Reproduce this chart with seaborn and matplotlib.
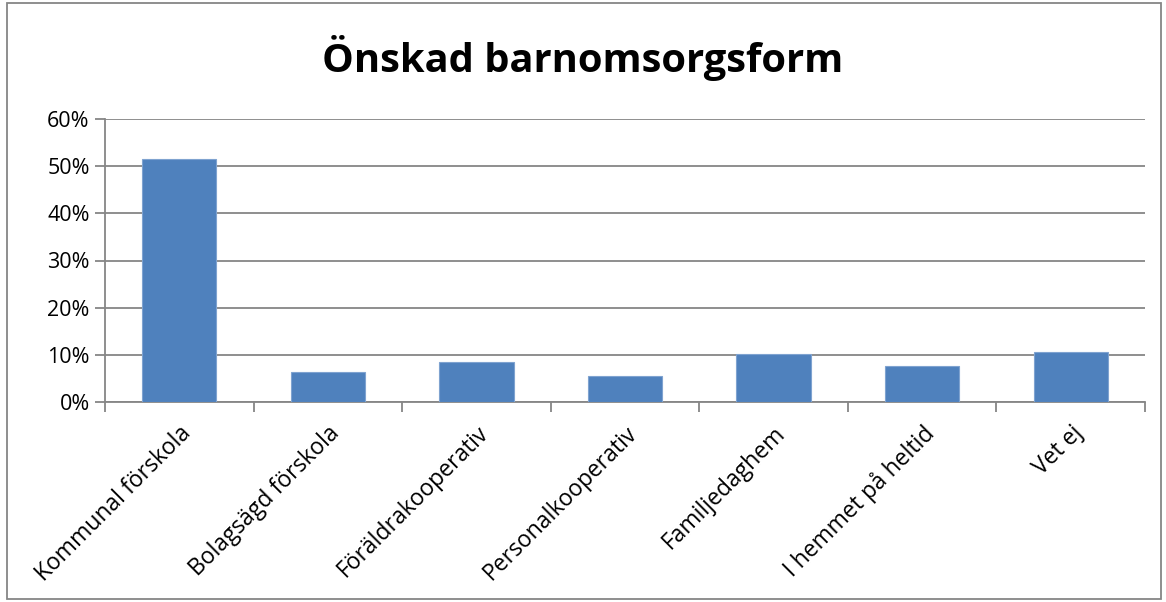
import matplotlib
matplotlib.use('Agg')
import matplotlib.pyplot as plt
import matplotlib.patches as mpatches
import numpy as np
import pandas as pd
import seaborn as sns

categories = ['Kommunal förskola', 'Bolagsägd förskola', 'Föräldrakooperativ',
              'Personalkooperativ', 'Familjedaghem', 'I hemmet på heltid', 'Vet ej']
values = [51.6, 6.3, 8.4, 5.5, 10.1, 7.6, 10.5]
yticks = [0, 10, 20, 30, 40, 50, 60]

df = pd.DataFrame({'form': categories, 'andel': values})

sns.set_style('white')
plt.rcParams['font.family'] = ['Open Sans', 'DejaVu Sans']
plt.rcParams['text.color'] = 'black'
plt.rcParams['xtick.labelcolor'] = 'black'
plt.rcParams['ytick.labelcolor'] = 'black'

fig = plt.figure(figsize=(11.66, 6.02), dpi=100)
ax = fig.add_axes([105 / 1166, 1 - 402 / 602, 1040 / 1166, 283 / 602])

sns.barplot(data=df, x='form', y='andel', color='#4F81BD', width=0.5,
            saturation=1, ax=ax, zorder=3, edgecolor='#7FA3D0', linewidth=0.8)

grid_c = '#868686'
ax.set_ylim(0, 60)
ax.set_xlim(-0.5, len(categories) - 0.5)
ax.set_yticks(yticks)
ax.set_yticklabels([f'{t}%' for t in yticks], fontsize=15.5)
ax.yaxis.grid(True, color=grid_c, linewidth=1.3, zorder=0)
ax.set_axisbelow(True)
ax.tick_params(axis='y', direction='out', length=7, width=1.3, color=grid_c, pad=4, left=True)

ax.set_xticks(range(len(categories)))
ax.set_xticklabels(categories, rotation=45, ha='right', rotation_mode='anchor', fontsize=16.5)
ax.tick_params(axis='x', which='major', length=0, pad=14)
ax.set_xticks(np.arange(-0.5, len(categories), 1.0), minor=True)
ax.tick_params(axis='x', which='minor', direction='out', length=7, width=1.3, color=grid_c, bottom=True)

for s in ['top', 'right']:
    ax.spines[s].set_visible(False)
for s in ['left', 'bottom']:
    ax.spines[s].set_color(grid_c)
    ax.spines[s].set_linewidth(1.3)

ax.set_xlabel('')
ax.set_ylabel('')

fig.text(0.5, 1 - 58 / 602, 'Önskad barnomsorgsform', ha='center', va='center',
         fontsize=28.7, fontweight='bold', color='black')

border = mpatches.Rectangle((7 / 1166, 3 / 602), 1 - 12 / 1166, 1 - 6 / 602,
                            transform=fig.transFigure, fill=False,
                            edgecolor=grid_c, linewidth=1.3)
fig.patches.append(border)

fig.savefig('out.png', dpi=100)
